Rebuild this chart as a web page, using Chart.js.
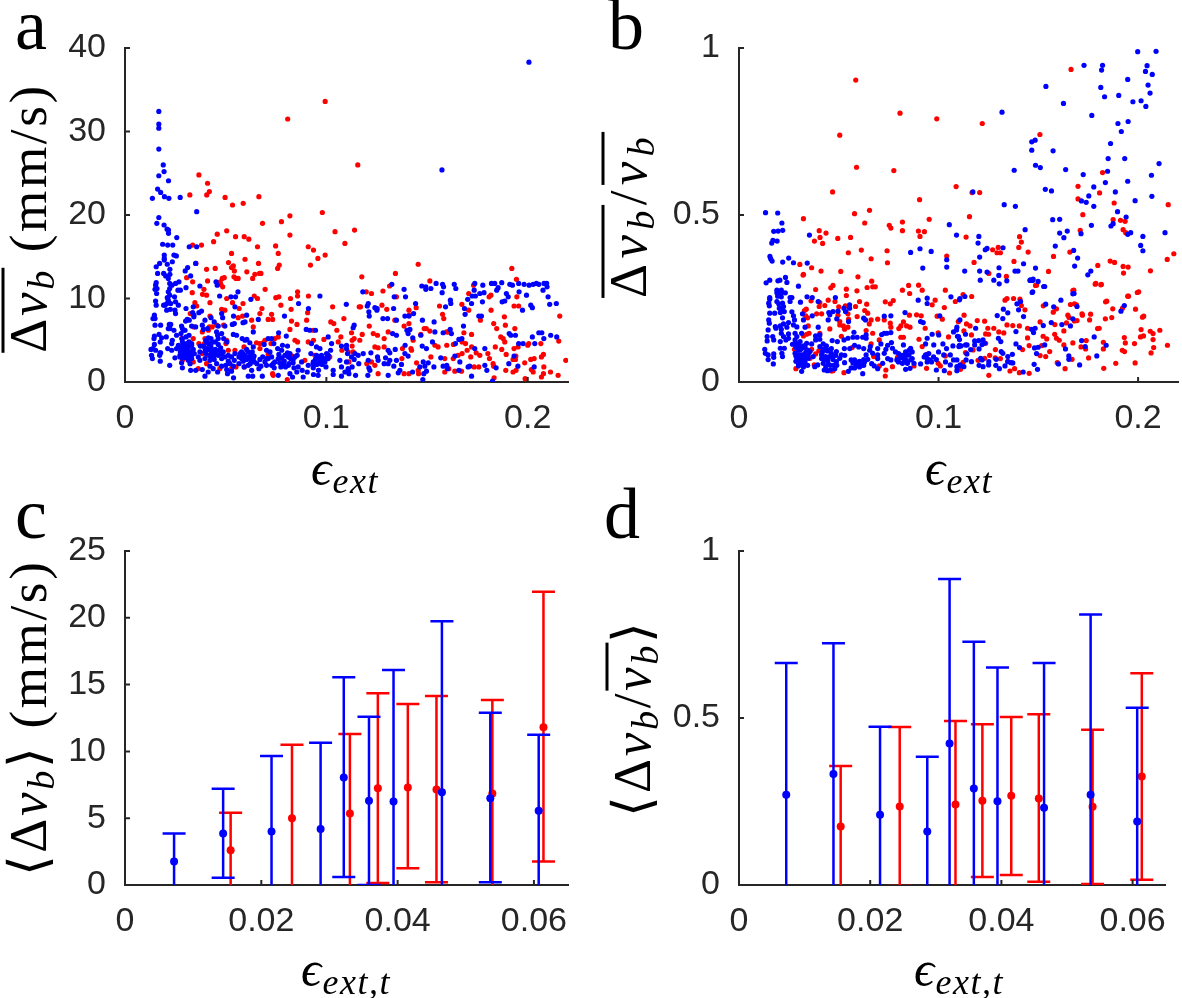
<!DOCTYPE html>
<html>
<head>
<meta charset="utf-8">
<script src="https://cdn.jsdelivr.net/npm/chart.js@4/dist/chart.umd.min.js"></script>
<style>
  html, body { margin: 0; padding: 0; background: #fff; }
  #page { position: relative; width: 1182px; height: 998px; overflow: hidden; }
  canvas { position: absolute; }
  .lab { position: absolute; font-family: "Liberation Serif", serif; color: #000; white-space: nowrap; line-height: 1; }
  .rot { transform: translate(-50%, -50%) rotate(-90deg); }
  .cen { transform: translate(-50%, -50%); }
  .letter { font-size: 72px; }
  .ytitle { font-size: 53px; letter-spacing: 0.05em; }
  .xtitle { font-size: 50px; letter-spacing: 0.03em; }
  .bar { display: inline-block; border-top: 3px solid #000; line-height: 0.8; padding-top: 2px; }
  i { font-style: italic; }
  sub { font-size: 0.72em; line-height: 0; vertical-align: -0.22em; font-style: italic; }
</style>
</head>
<body>
<div id="page">
  <canvas id="panelA" width="590" height="500" style="left:0;top:0"></canvas>
  <canvas id="panelB" width="592" height="500" style="left:590px;top:0"></canvas>
  <canvas id="panelC" width="590" height="498" style="left:0;top:500px"></canvas>
  <canvas id="panelD" width="592" height="498" style="left:590px;top:500px"></canvas>

  <div class="lab letter" style="left:15px;top:-11px">a</div>
  <div class="lab letter" style="left:608px;top:-11px">b</div>
  <div class="lab letter" style="left:15px;top:478px">c</div>
  <div class="lab letter" style="left:604px;top:478px">d</div>

  <div class="lab ytitle rot" style="left:28px;top:218px"><span class="bar">&Delta;<i>v</i><sub>b</sub></span> (mm/s)</div>
  <div class="lab ytitle rot" style="left:628px;top:215px;letter-spacing:0.1em"><span class="bar">&Delta;<i>v</i><sub>b</sub></span>/<span class="bar"><i>v</i><sub>b</sub></span></div>
  <div class="lab ytitle rot" style="left:28px;top:718px">&#10216;&Delta;<i>v</i><sub>b</sub>&#10217; (mm/s)</div>
  <div class="lab ytitle rot" style="left:632px;top:718px">&#10216;&Delta;<i>v</i><sub>b</sub>/<span class="bar"><i>v</i><sub>b</sub></span>&#10217;</div>

  <div class="lab xtitle cen" style="left:345px;top:468px"><i>&#1013;</i><sub>ext</sub></div>
  <div class="lab xtitle cen" style="left:959px;top:468px"><i>&#1013;</i><sub>ext</sub></div>
  <div class="lab xtitle cen" style="left:346px;top:969px"><i>&#1013;</i><sub>ext,t</sub></div>
  <div class="lab xtitle cen" style="left:959px;top:969px"><i>&#1013;</i><sub>ext,t</sub></div>
</div>

<script>
// Tick values for the four panels
const xTicksTop = [0, 0.1, 0.2];
const xTicksBottom = [0, 0.02, 0.04, 0.06];
const yTicksA = [0, 10, 20, 30, 40];
const yTicksB = [0, 0.5, 1];
const yTicksC = [0, 5, 10, 15, 20, 25];
const yTicksD = [0, 0.5, 1];

// Panel a: values, [strain, speed]
const aBlue = [
[.0168,32.4],[.0168,30.9],[.0168,30.4],[.0168,27.9],[.019,26],[.0194,25.2],[.0168,24.7],[.0162,23.1],[.0216,24.1],[.0177,22.7],[.0136,22],[.0196,22.2],[.0218,22],[.0274,22.1],[.0356,20.4],[.0168,19.7],[.0158,19],[.0194,18.8],[.0209,18.3],[.0216,18.2],[.0216,17.8],[.0257,17.3],[.1574,25.4],[.2006,38.3],
[.0187,16.5],[.0212,16.4],[.0237,16.4],[.0319,16.2],[.0356,16.2],[.0195,15.2],[.0195,14.8],[.0243,15.2],[.0255,15.1],[.0195,14.6],[.0235,14.4],[.0172,14.2],[.021,14.1],[.0155,13.8],[.0223,13.5],[.0311,13.7],[.0351,14.2],[.0162,13],[.0192,13],[.0223,12.9],[.0202,12.7],[.0326,12.7],[.0299,13.3],[.0215,12.4],
[.0155,11.9],[.0152,11.6],[.0222,11.8],[.0268,12],[.0251,11.8],[.0233,11.6],[.0149,11.1],[.0159,11.2],[.0222,11.2],[.0303,11.3],[.0372,11.5],[.0452,12],[.0458,11.6],[.0263,11],[.0275,11],[.0215,10.8],[.0157,10.6],[.0222,10.4],[.021,10.1],[.0246,10.2],[.0561,10.8],[.047,10.3],[.0526,10.2],[.0549,10.2],[.0625,9.9],
[.0152,9.7],[.0155,9.2],[.0215,9.8],[.0208,9.4],[.0227,9.4],[.0199,9.2],[.0192,9.2],[.0251,9.6],[.0265,9.2],[.0303,8.8],[.0339,9],[.0546,9],[.0968,10.3],[.0862,9.4],[.0146,8],[.0207,8.6],[.0225,8.7],[.0248,8.6],[.0251,8.2],[.0336,8.3],[.038,8.5],[.0367,8.3],[.0342,8],[.048,8.2],[.0485,7.7],[.0604,8],[.0792,7.9],[.0911,8.8],
[.0139,7.6],[.0149,7.6],[.0309,7.5],[.0301,7.3],[.0319,7.4],[.0342,7.8],[.0397,7.4],[.0427,7.7],[.0443,7.2],[.0539,7.9],[.0543,7],[.0533,6.9],[.0586,7.1],[.0596,7.2],[.0662,7.5],
[.022,6.9],[.0227,6.9],[.0177,6.8],[.0149,6.8],[.0215,6.4],[.0223,6.4],[.0243,6.2],[.0281,6.7],[.0285,6.4],[.0291,6.2],[.0331,6.7],[.0351,6.6],[.0384,6.8],[.0389,6.3],[.0463,6.7],[.0496,6.7],[.0637,6],[.0763,5.9],[.09,6.3],[.0918,6.2],[.0946,6.2],
[.0146,5.5],[.0144,5.2],[.0169,5.7],[.0278,5.8],[.0298,6.2],[.0318,5.6],[.041,6.4],[.0455,6],[.046,5.6],[.048,5.8],[.0182,5.3],[.0205,5.4],[.0256,5.6],[.0175,4.8],[.0235,5],[.0232,4.6],[.0285,5.2],[.0303,5.4],[.0538,5.7],[.0554,5.6],[.0711,5.2],[.0728,5.2],[.0801,5.5],[.1009,5.4],[.0582,5.2],[.0605,5.1],[.0414,5.3],[.0427,5.2],[.0433,4.8],[.0463,5.2],[.049,5.2],[.0506,4.8],
[.0146,4.5],[.0139,4],[.0129,3.9],[.0152,3.8],[.0174,3.5],[.0212,4],[.0256,4],[.0232,3.8],[.0285,4.8],[.029,4.4],[.0278,4.2],[.0306,4.6],[.0331,4.6],[.0314,4],[.0374,4.3],[.0389,4.3],[.0405,4.8],[.0427,4.6],[.044,3.8],[.041,4],[.0468,3.8],[.0596,5],[.062,4.7],[.0637,4.2],[.0691,4.5],[.0739,4.6],[.0782,4.4],[.0807,4.3],[.086,3.8],[.0926,4.6],[.0951,4.2],[.1026,4.6],[.1075,4.3],[.11,4.4],[.0968,4],
[.0132,3.2],[.0136,2.8],[.0172,3.2],[.0177,3.5],[.0248,2.9],[.0273,3.2],[.0298,3.6],[.0318,3.6],[.029,3.2],[.0306,3.2],[.0331,3.2],[.0344,3.4],[.0372,3.6],[.0397,3.6],[.0427,3.4],[.045,3.4],[.0475,3.4],[.0488,3.6],[.0513,3.2],[.0546,3.4],[.0571,3.4],[.0587,3.4],[.0612,3.6],[.0632,3.6],[.0629,3.2],[.0703,3.8],[.072,3.6],[.0758,4],[.0778,3.8],[.0819,3.4],[.0855,3.2],[.0923,3.4],[.0951,3.2],[.0976,3.2],[.1001,3.4],[.1021,3.8],
[.0175,2.5],[.0222,2],[.0281,2.3],[.0285,1.7],[.0314,2.6],[.0323,2.2],[.0372,2.6],[.0397,2.8],[.0364,3],[.0422,2.6],[.0443,2.7],[.048,2.8],[.0513,2.5],[.0543,2.6],[.0587,3],[.0604,2.7],[.0637,2.8],[.0642,2.4],[.067,2.7],[.0703,2.8],[.0728,3],[.0761,2.8],[.0794,3.2],[.0811,3],[.0835,2.7],[.0877,2.4],[.091,2],[.0935,2.4],[.096,2.2],[.0984,2.6],[.1009,2.8],[.1067,2.6],[.11,2.4],
[.0326,1.4],[.0351,1.4],[.0384,1.5],[.0422,1.9],[.0438,1.6],[.048,1.9],[.0505,1.5],[.0538,1.9],[.0592,1.8],[.0612,2],[.0629,1.4],[.0665,1.6],[.0703,2],[.0736,2.2],[.0774,1.8],[.0791,2],[.0811,2],[.086,1.8],[.0935,1.7],[.0998,1.8],[.1034,1.4],[.1075,1.8],[.1092,1.2],[.1108,1.6],
[.0397,.7],[.0539,.5],[.0509,1],[.0612,.7],[.0634,.7],[.0682,.7],[.0761,.8],[.0819,1],[.0832,.6],[.0885,.6],[.0936,.9],[.0959,.8],[.1034,.9],[.1075,.7],
[.0265,4.4],[.0281,4.0],[.0298,3.9],[.0314,4.2],[.0275,3.6],[.0291,3.7],[.0306,3.4],[.0322,3.5],[.0339,3.9],[.0273,3.0],[.0285,2.9],[.0301,2.9],[.0318,3.0],[.0331,2.8],[.0298,4.4],[.0318,4.8],[.0331,4.4],
[.0402,5],[.0414,4.6],[.0427,4.2],[.0414,3.9],[.0402,3.4],[.0433,3.6],[.0449,3.9],[.0463,4.5],[.0449,4.8],[.0475,4.1],[.0423,3.1],[.0441,3.1],[.0463,3.2],[.048,3.4],[.0396,4.1],
[.0566,3],[.0579,3.6],[.0594,3.2],[.0579,2.8],[.0612,3],[.0625,3.4],[.0604,3.9],[.0587,2.5],[.0625,2.7],[.0641,3.1],[.0622,2.2],[.0566,2.2],
[.0764,3.3],[.0778,2.9],[.0791,2.5],[.0807,3.5],[.0822,2.8],[.0835,2.3],[.0797,1.8],[.0779,2.1],[.0815,2.2],[.0844,3],[.0768,2.3],[.0839,1.7],
[.0946,2.7],[.0959,3],[.0968,2.6],[.0981,2.9],[.0993,2.4],[.1001,2.9],[.0934,2.2],[.0952,2.1],[.0979,2.1],[.101,3.2],
[.0684,3],[.0695,2.4],[.0711,2.8],[.0744,2.4],[.0728,2],[.0675,1.9],[.0655,2.2],[.0521,2.2],[.05,2],[.0529,3],[.0496,3],[.0529,1.3],[.0455,2.2],[.046,1.2],[.0413,1.2],[.0741,1.7],[.0853,1.2],[.088,1.4],[.0905,1.2],[.0961,1.4],
[.1325,11.7],[.1474,11.5],[.1494,11.4],[.1494,11.1],[.1519,11.2],[.1545,11.8],[.1577,11.7],[.1582,11.4],[.1635,11.7],[.1643,11.2],[.1575,10.7],[.1386,11.1],[.1393,10.2],[.1181,10.8],[.1337,10.2],[.1737,11.8],[.1734,11],[.1777,11.6],[.182,11.8],[.1836,11.8],[.1871,11.9],[.1911,11.7],[.1924,11.6],[.1955,11.8],[.1982,11.7],[.2007,11.6],[.2027,11.7],[.2043,11.8],[.2055,11.7],[.2081,11.8],[.2094,11.8],[.2096,11.4],[.2076,11],[.1853,11.3],[.1846,11],[.1957,10.8],[.1994,10.4],[.2101,10.2],[.1724,10.3],[.174,10.3],[.1762,10.6],[.1783,10.7],[.1702,9.9],[.1721,9.4],[.1775,9.6],[.1894,10.6],[.1903,10.2],[.1886,9.7],[.1873,9.6],[.2015,9.2],[.2023,8.9],[.1974,8.6],[.2109,9.3],[.2142,9.4],[.1616,9.8],[.1618,9.4],[.1592,9],[.1686,8.8],[.1689,8.1],[.1757,7.9],[.177,7.9],[.1443,9.4],[.1433,8.2],[.139,7.9],[.141,7.9],[.1334,8.8],[.1241,8.9],[.1252,8.8],[.1251,8.6],[.1208,9.4],[.1203,9.1],[.1211,8.4],[.1213,7.9],[.1099,9.3],[.1281,7.6],[.1304,7.6],[.1348,7.4],[.1477,7.4],[.1535,7.2],[.1138,6.8],[.1133,6.5],[.1415,6.3],[.14,6.2],[.1406,5.8],[.1329,5.8],[.1348,5.6],[.1429,5.3],[.1469,5.6],[.1539,6],[.158,5.9],[.1615,6.3],[.1621,5.8],[.1681,6.7],[.1673,5.2],[.1658,5.1],[.1641,4.6],[.1527,4.8],[.1391,4.4],[.1342,3.9],[.1307,3.8],[.1315,3.5],[.1476,4.3],[.1497,4],[.139,3.4],[.1406,3.1],[.1221,3.5],[.1183,3.4],[.1142,3.4],[.11,4],[.1105,3.4],[.1161,2.2],[.1138,2.7],[.1208,2.6],[.1254,3],[.1257,2.6],[.1294,2.9],[.1315,2.6],[.1348,2.6],[.1307,2.2],[.1287,2.2],[.1335,1.9],[.1373,2.1],[.1365,1.4],[.1357,1.1],[.1428,1.2],[.1211,1.7],[.1216,1.4],[.1109,1.4],[.1112,1],[.1128,1.8],[.1145,.8],[.1206,.8],[.1307,.8],[.1484,1],[.1497,1.3],[.1479,.3],[.1464,1.8],[.1489,1.9],[.1481,2.4],[.1506,2.3],[.1568,2.9],[.1534,1.8],[.158,1.9],[.1598,2],[.1602,1.6],[.1658,1.4],[.1638,3.1],[.1663,2.4],[.1712,1.9],[.1704,1.8],[.1721,.7],[.1737,4],[.1787,4],[.1787,2],[.1797,1.4],[.1843,1.7],[.1825,.1],[.1906,2.2],[.1932,3.1],[.1951,1.9],[.1908,5.8],[.1916,5.6],[.1939,5.6],[.1955,4.6],[.1977,4.6],[.2023,5.4],[.2035,4.6],[.2055,5.9],[.207,5.9],[.208,5.2],[.2114,5.6],[.2144,5.4],[.2032,1.8],[.1125,3],[.1158,3.2]
];
const aRed = [
[.0994,33.6],[.0808,31.5],[.1156,26],[.0367,24.8],[.041,23.8],[.0419,22.8],[.0406,22.4],[.0322,22.4],[.0497,22.1],[.0534,21.2],[.0587,21.4],[.0665,22.2],[.0683,19],[.0777,19.2],[.0819,19.9],[.098,20.3],[.1043,18],[.0819,17.6],[.114,18.2],[.0505,18.1],[.0458,17.7],[.0549,17.4],[.0592,17.4],[.0615,17.1],
[.0336,16.4],[.038,16.4],[.044,16.8],[.0658,16.2],[.0748,16.3],[.0761,15.4],[.091,16.2],[.0936,15.8],[.0994,15.2],[.0958,14.8],[.0921,14],[.1092,16.6],[.0529,15.4],[.0596,14.7],[.0514,14.3],[.0538,13.9],[.0529,13.7],[.0543,13.3],[.0663,14.2],[.0766,14],[.0758,13.6],[.0405,13.5],[.0448,13.6],[.0352,14.2],[.0605,13.2],[.0645,12.9],[.0668,13],[.0675,13],[.0541,12.6],[.0562,12.4],[.0551,12.4],[.0634,12.4],[.0483,12.4],[.0493,12.5],[.0306,12.5],[.0336,12],[.041,12.1],[.0473,12],[.0476,11.7],[.0485,11.4],[.0392,11.1],[.0385,10.5],[.0334,10.7],[.0405,10.4],[.0696,11.1],[.0642,10.3],[.0658,10],[.0505,10],[.0534,9.5],[.0422,9.5],[.0347,9.5],[.0356,9.1],[.0586,9.4],[.0567,8.8],[.048,8.7],[.0496,8.6],[.0749,10.1],[.0764,10.2],[.0822,10],[.0857,10.8],[.0857,10.3],[.0911,10.3],[.0774,9.2],[.0825,8.7],[.0907,8.3],[.1031,9],[.068,8.8],[.067,8.2],[.0728,8.1],[.0711,7.5],[.0733,7.5],[.0902,7.4],[.0827,7.3],[.0854,6.9],[.0819,6.3],[.1087,7.6],[.1022,7.2],[.1037,7],[.1052,6.2],[.1072,5.4],[.0935,6.2],[.0422,7.9],[.0562,7.7],[.0584,7.9],[.0629,7.4],[.0637,6.6],[.0324,8.2],[.0419,6.6],[.0433,6.6],[.0455,6.8],[.0342,6.6],[.0414,6.2],[.049,6.8],[.0384,6],[.0397,5.2],[.0339,5.2],[.0281,5.2],[.0394,4.6],[.0367,4.6],[.0505,5],[.0501,4.6],[.0653,4.7],[.067,4.6],[.0687,4.7],[.0695,5],[.067,4],[.0725,4.6],[.0744,5.2],[.0761,5.4],[.0844,5],[.0857,4.8],[.091,4.8],[.0936,5],[.0988,5.1],[.1059,4.8],[.1077,3.8],[.0546,3.8],[.0591,4.2],[.0513,3.8],[.041,3.2],[.0384,3.4],[.0281,3.2],[.0285,2.6],[.0339,2.4],[.0438,2.8],[.0405,2.2],[.0364,1.6],[.0471,1.6],[.0529,1.6],[.0551,1.8],[.0592,1.8],[.0733,1],[.0736,.8],[.0806,.3],[.0893,2.6],[.0943,3.2],[.0976,2.4],[.1017,3],[.0711,3.3],[.0778,2.8],[.0832,3.1],
[.1456,14.1],[.1343,13],[.1176,12.6],[.1921,13.6],[.1944,12.3],[.1514,12.1],[.1314,11.5],[.1731,11.6],[.1198,10.8],[.1224,10.6],[.1281,10.9],[.1348,10.2],[.1707,10.6],[.1808,10.2],[.1817,10.4],[.1946,10.2],[.1932,9.1],[.1955,9.1],[.1163,9],[.117,9],[.1276,9.2],[.13,8.7],[.141,8.6],[.1446,8.9],[.1562,9.1],[.1673,9.3],[.1707,8.6],[.1818,8.6],[.1577,8.1],[.1583,7.6],[.134,7.4],[.1411,8],[.141,7],[.1386,6.7],[.1213,6.7],[.1125,5.9],[.1178,5.7],[.1233,5.8],[.1254,5.6],[.1307,6],[.1431,5],[.1138,5.2],[.1128,5],[.1166,5],[.1287,5.2],[.1486,6.4],[.1496,6.4],[.1514,6.1],[.1597,6],[.1605,6],[.1469,5.7],[.1721,5.7],[.1683,5.9],[.1765,7.4],[.1831,7],[.1846,6.4],[.1884,7.8],[.1889,6.8],[.1936,6.4],[.2159,7.9],[.1866,5.4],[.1878,5.2],[.1886,4.8],[.2,4.4],[.2005,4.6],[.2065,4.6],[.2154,4.9],[.1952,4.2],[.1932,4],[.1871,3.9],[.1839,4.2],[.1691,4.6],[.1674,4.8],[.1721,4.2],[.1699,3.8],[.1744,3.5],[.1762,3.2],[.1802,3.4],[.181,2.8],[.1893,3.3],[.1241,4.2],[.1257,4.1],[.1287,4.2],[.1378,4],[.142,4],[.1423,3.8],[.1555,4.2],[.1539,4.4],[.1598,4.4],[.1631,4.5],[.1128,4.3],[.1109,3.6],[.1133,3.6],[.1112,2.4],[.1201,2.2],[.1241,2],[.1257,1],[.1375,2.8],[.1448,2.3],[.1519,3],[.1588,2.8],[.163,2.8],[.1654,3.2],[.1674,3.4],[.1717,3],[.1734,1.8],[.1757,1.8],[.1828,2.2],[.1831,1.9],[.1833,.5],[.1927,2.7],[.1941,3.1],[.1939,2.7],[.1985,2.3],[.2015,2.7],[.2032,2.8],[.2068,3],[.2078,3.3],[.208,1.8],[.2189,2.6],[.1891,1.4],[.1927,1.2],[.1942,1.4],[.2018,1.5],[.2027,1.2],[.2113,1.2],[.2151,.8],[.2078,1],[.2068,.6],[.1987,.4],[.1458,1],[.1456,1.4],[.1386,1],[.141,1],[.1588,1.2],[.1638,1.3],[.1671,1.3],[.1608,1.6],[.1224,2.4]
];

// Panel b: values, [strain, relative speed]
const bBlue = [
[.0133,.507],[.0194,.506],[.0215,.476],[.0174,.451],[.0196,.452],[.0219,.454],[.017,.424],[.0164,.416],[.0191,.422],[.0155,.376],[.0159,.369],[.0166,.362],[.0219,.359],[.0249,.371],[.0273,.357],[.0342,.356],[.0353,.44],[.1054,.471],[.109,.44],[.1172,.569],[.1318,.808],[.1379,.634],[.1329,.531],[.1385,.526],[.1202,.436],[.1198,.416],[.1234,.396],[.1243,.4],[.1206,.374],[.1323,.402],[.1434,.456],[.1426,.354],[.1383,.332],[.1398,.332],[.1131,.332],[.1041,.366],[.1041,.344],[.0963,.391],[.0907,.399],[.086,.388],[.0921,.341],[.1303,.342],[.1243,.329],[.1206,.332],[.1467,.719],[.1484,.724],[.1467,.694],[.1486,.649],[.151,.642],[.1538,.885],[.1574,.692],[.1535,.577],[.1566,.572],[.1572,.486],[.1607,.487],[.1637,.636],[.1626,.834],[.1729,.948],[.1822,.948],[.1817,.934],[.1813,.882],[.1832,.854],[.1903,.858],[.1998,.989],[.209,.99],[.2045,.947],[.2037,.93],[.2071,.921],[.205,.889],[.206,.865],[.1948,.906],[.1974,.839],[.2015,.842],[.2039,.825],[.1768,.798],[.1899,.774],[.195,.78],[.1916,.75],[.1862,.714],[.185,.669],[.1847,.631],[.1933,.669],[.2105,.654],[.2067,.619],[.1725,.621],[.1836,.597],[.1948,.601],[.1886,.569],[.1778,.584],[.1753,.557],[.1716,.542],[.174,.538],[.1778,.526],[.1985,.543],[.2069,.556],[.1897,.51],[.194,.494],[.1864,.467],[.1875,.474],[.1766,.469],[.1714,.444],[.1607,.446],[.1628,.432],[.1645,.452],[.1948,.442],[.1963,.447],[.2024,.436],[.2135,.447],[.2013,.409],[.2024,.393],[.1585,.407],[.1677,.394],[.1697,.371],[.1682,.347],[.1748,.321],[.1763,.332],[.1486,.341],[.1458,.304],[.1471,.304],[.1527,.286],[.1469,.268],[.1673,.264],
[.0136,.297],[.0154,.305],[.0195,.303],[.0205,.305],[.0233,.313],[.024,.298],[.0298,.287],[.019,.275],[.0212,.275],[.019,.267],[.0212,.267],[.0232,.267],[.0154,.253],[.0154,.248],[.0194,.257],[.0212,.255],[.0265,.253],[.0256,.253],[.0308,.239],[.0341,.255],[.0367,.253],[.0397,.241],[.0483,.253],[.0149,.236],[.0152,.228],[.019,.241],[.0199,.234],[.0218,.236],[.0256,.241],[.0223,.226],[.0202,.221],[.0215,.216],[.0227,.211],[.0154,.206],[.0179,.206],[.0207,.208],[.0265,.21],[.0318,.204],[.0367,.198],[.045,.208],[.0471,.211],[.0496,.212],[.0526,.221],[.0534,.211],[.0554,.231],[.0554,.221],[.0625,.191],[.0634,.186],[.0728,.197],[.0761,.198],[.0832,.208],[.091,.181],[.0923,.178],[.1006,.198],[.0898,.245],[.0943,.251],[.0943,.235],[.1062,.255],[.1105,.246],[.0149,.186],[.0152,.176],[.0218,.192],[.0273,.198],[.0278,.186],[.0323,.186],[.0447,.186],[.0455,.201],[.049,.189],[.0549,.181],[.0182,.166],[.0207,.168],[.0223,.174],[.0248,.178],[.0146,.156],[.0185,.161],[.0212,.158],[.024,.164],[.0273,.171],[.029,.165],[.0331,.164],[.0397,.164],[.0141,.136],[.0141,.123],[.0169,.136],[.0174,.126],[.0212,.146],[.0223,.136],[.0248,.144],[.0248,.131],[.0207,.121],[.0235,.126],[.0281,.146],[.029,.136],[.0314,.146],[.0384,.138],[.0405,.141],[.0576,.149],[.0637,.141],[.0728,.146],[.0715,.142],[.0741,.146],[.0761,.148],[.0943,.131],[.0968,.143],[.1001,.141],[.1092,.164],[.1075,.15],[.11,.136],[.0129,.098],[.0132,.086],[.0146,.081],[.0174,.084],[.0174,.074],[.0146,.067],[.0172,.054],[.0207,.101],[.0227,.101],[.0215,.086],[.0218,.076],[.0268,.113],[.0281,.126],[.0285,.116],[.0306,.121],[.0339,.116],[.0364,.114],[.0384,.126],[.0405,.128],[.0467,.124],[.0493,.121],[.0526,.126],[.0546,.131],[.0571,.134],[.0592,.134],[.062,.134],[.0637,.131],[.0658,.106],[.0711,.114],[.0736,.098],[.0764,.118],[.0769,.101],[.0824,.111],[.086,.101],[.0935,.114],[.0976,.111],[.1022,.114],[.1072,.108],[.1105,.11],[.029,.101],[.0306,.096],[.0323,.108],[.0339,.096],[.0281,.086],[.0298,.081],[.0314,.081],[.0331,.086],[.0356,.091],[.029,.071],[.0306,.066],[.0323,.066],[.0347,.071],[.0298,.056],[.0323,.054],[.0314,.032],[.038,.046],[.0394,.051],[.0372,.076],[.0405,.106],[.0422,.114],[.0438,.108],[.0422,.098],[.0443,.093],[.0414,.081],[.0433,.076],[.0463,.086],[.0488,.091],[.0513,.081],[.0471,.067],[.0422,.056],[.0447,.054],[.0427,.036],[.0443,.034],[.0488,.061],[.0505,.071],[.0529,.058],[.0562,.066],[.0579,.066],[.0596,.056],[.0625,.067],[.0637,.081],[.067,.086],[.0695,.081],[.0728,.086],[.0761,.066],[.0791,.066],[.0819,.056],[.0852,.081],[.086,.066],[.0877,.056],[.091,.054],[.0935,.081],[.0956,.066],[.0989,.067],[.1026,.081],[.1059,.081],[.1075,.066],[.1108,.051],[.0562,.042],[.0587,.051],[.062,.025],[.0548,.032],[.0678,.048],[.072,.056],[.0835,.038],[.0857,.041],[.0989,.036],[.1029,.034],[.1059,.051],[.1092,.034],
[.0285,.105],[.0298,.095],[.0301,.11],[.0314,.1],[.0331,.105],[.0347,.095],[.0285,.078],[.0298,.07],[.0314,.073],[.0331,.077],[.0347,.082],[.0285,.062],[.0298,.048],[.0314,.058],[.0331,.06],[.0344,.05],[.0323,.045],
[.0418,.09],[.0431,.1],[.0448,.095],[.0463,.1],[.0414,.07],[.043,.066],[.045,.075],[.0468,.075],[.0485,.08],[.0445,.064],[.0458,.05],[.0475,.05],[.049,.05],[.0435,.045],[.0458,.036],[.048,.04],
[.0571,.057],[.0587,.06],[.0604,.062],[.0612,.05],[.0629,.06],[.0604,.045],[.0625,.05],[.0645,.068],[.0579,.042],
[.0784,.09],[.08,.085],[.0818,.08],[.0835,.09],[.0852,.095],[.0868,.09],[.0799,.06],[.0835,.066],[.0844,.056],[.0806,.072],[.0825,.07],[.0868,.07],[.084,.08],
[.0928,.075],[.0943,.07],[.0951,.085],[.0965,.06],[.0975,.075],[.0943,.06],
[.0655,.095],[.0695,.1],[.0745,.07],[.0745,.11],[.0695,.07],[.0665,.055],[.0695,.04],[.0528,.1],[.053,.08],[.0555,.1],[.0579,.11],[.06,.105],[.0625,.1],[.1,.09],[.1035,.06],[.104,.1],
[.1302,.319],[.1277,.305],[.1342,.303],[.1209,.305],[.1304,.294],[.146,.306],[.1474,.308],[.1499,.301],[.1532,.286],[.1472,.27],[.1679,.265],[.1107,.25],[.1132,.256],[.1393,.234],[.1411,.241],[.1401,.216],[.1325,.218],[.1347,.207],[.1294,.199],[.1322,.19],[.1426,.196],[.1537,.233],[.1577,.225],[.1613,.245],[.1694,.226],[.1914,.212],[.1931,.229],[.1107,.186],[.1565,.178],[.1618,.172],[.1661,.168],[.1673,.189],[.1525,.169],[.109,.156],[.1186,.161],[.1135,.143],[.1095,.137],[.1105,.127],[.1388,.151],[.1466,.158],[.1476,.148],[.1484,.161],[.13,.131],[.1312,.121],[.1181,.123],[.1201,.124],[.1223,.126],[.1231,.116],[.1218,.112],[.1181,.111],[.1102,.106],[.1112,.108],[.1135,.111],[.1143,.111],[.1161,.097],[.1203,.099],[.1388,.114],[.1406,.103],[.1481,.102],[.1499,.104],[.1532,.111],[.1636,.099],[.1717,.124],[.1735,.106],[.178,.135],[.184,.11],[.1491,.085],[.1314,.091],[.1322,.086],[.137,.083],[.1347,.076],[.1142,.084],[.1653,.078],[.1653,.068],[.1793,.078],[.1092,.066],[.1138,.066],[.1165,.061],[.1211,.071],[.1218,.066],[.1252,.061],[.1289,.068],[.1347,.061],[.1363,.058],[.1372,.057],[.1092,.046],[.1107,.048],[.1127,.046],[.1203,.05],[.1223,.046],[.1251,.051],[.1287,.05],[.1333,.048],[.1305,.04],[.1479,.053],[.1496,.038],[.1424,.03],[.1601,.054],[.1707,.051]
];
const bRed = [
[.0585,.904],[.0807,.805],[.0991,.788],[.1219,.774],[.0505,.739],[.1508,.741],[.1664,.936],[.0589,.643],[.0776,.633],[.1088,.585],[.1168,.567],[.1206,.567],[.0469,.569],[.0905,.546],[.0654,.514],[.0579,.504],[.0323,.489],[.063,.476],[.0953,.487],[.1155,.495],[.0753,.469],[.0761,.461],[.0819,.479],[.0819,.453],[.0899,.452],[.0929,.45],[.0907,.436],[.0402,.453],[.0436,.446],[.0406,.433],[.0378,.422],[.0419,.415],[.0495,.43],[.0559,.433],[.1138,.434],[.1406,.435],[.1415,.419],[.1402,.403],[.1449,.389],[.1299,.403],[.1271,.396],[.1293,.387],[.131,.387],[.1378,.361],[.1041,.377],[.0613,.395],[.0548,.387],[.0742,.393],[.0744,.357],[.0662,.369],[.0305,.352],[.0364,.342],[.0411,.332],[.0321,.32],[.051,.331],[.1178,.358],[.171,.454],[.1699,.586],[.1699,.548],[.1723,.501],[.1822,.627],[.1807,.566],[.188,.536],[.2151,.531],[.1875,.486],[.1912,.484],[.1935,.481],[.1925,.456],[.1938,.447],[.1658,.389],[.1576,.376],[.186,.362],[.1882,.358],[.1925,.346],[.195,.344],[.1927,.326],[.1798,.349],[.2062,.333],[.2146,.367],[.2179,.384],[.1551,.331],[.1785,.293],[.1813,.291],[.1486,.289],[.1996,.268],[.1948,.257],[.1837,.24],[.1673,.274],
[.0323,.322],[.0596,.315],[.0665,.302],[.0384,.277],[.046,.282],[.0471,.289],[.0538,.278],[.0591,.273],[.0642,.283],[.067,.285],[.0683,.285],[.0538,.259],[.0361,.243],[.0447,.245],[.0481,.241],[.0604,.241],[.0733,.24],[.0758,.234],[.0773,.244],[.0819,.275],[.085,.289],[.0855,.265],[.09,.29],[.0918,.275],[.1034,.275],[.0983,.245],[.0968,.231],[.1084,.241],[.1029,.223],[.0405,.238],[.0402,.226],[.043,.229],[.05,.225],[.0533,.228],[.0584,.226],[.064,.233],[.0337,.218],[.0328,.214],[.0334,.198],[.0344,.192],[.0389,.204],[.0414,.204],[.0496,.2],[.0505,.181],[.0546,.204],[.0549,.188],[.0592,.196],[.063,.214],[.0645,.206],[.0662,.186],[.0695,.188],[.0728,.186],[.0758,.176],[.0761,.164],[.0824,.18],[.0811,.168],[.0801,.16],[.0854,.2],[.084,.168],[.0857,.164],[.089,.201],[.0913,.198],[.0993,.197],[.1019,.188],[.11,.181],[.0933,.161],[.0347,.168],[.0455,.159],[.0505,.171],[.0523,.168],[.0529,.158],[.0546,.164],[.0637,.154],[.0653,.174],[.067,.146],[.0339,.143],[.0351,.146],[.0323,.138],[.0405,.146],[.0513,.137],[.0703,.126],[.0811,.134],[.0824,.134],[.0902,.128],[.0998,.147],[.105,.135],[.0278,.098],[.0364,.098],[.0384,.084],[.0567,.103],[.0662,.114],[.04,.093],[.0356,.071],[.0377,.051],[.0285,.04],[.0526,.028],[.0471,.034],[.0463,.033],[.0733,.018],[.0736,.036],[.0769,.046],[.0703,.048],[.0877,.048],[.0794,.074],[.0675,.076],[.0918,.106],[.0998,.056],[.1009,.048],[.1055,.027],[.1034,.078],[.094,.041],[.0943,.083],
[.134,.316],[.1252,.325],[.1491,.29],[.1678,.275],[.1123,.262],[.1166,.256],[.1343,.25],[.1333,.245],[.1376,.25],[.1408,.248],[.1415,.229],[.1433,.216],[.1525,.228],[.1591,.219],[.1575,.209],[.1661,.232],[.1681,.234],[.1691,.231],[.1788,.295],[.1816,.292],[.1843,.242],[.1873,.219],[.2003,.27],[.1952,.257],[.1922,.221],[.1987,.218],[.1128,.2],[.1648,.2],[.1654,.193],[.1719,.204],[.1721,.2],[.1762,.203],[.1757,.186],[.1868,.193],[.1836,.189],[.2022,.194],[.2028,.197],[.1194,.184],[.1231,.182],[.1099,.181],[.114,.174],[.1158,.168],[.1343,.171],[.1372,.169],[.1405,.168],[.1509,.18],[.1583,.172],[.1641,.177],[.1681,.183],[.1694,.184],[.1127,.153],[.1165,.141],[.1247,.161],[.1277,.161],[.1302,.15],[.1327,.147],[.1236,.144],[.1251,.143],[.1446,.161],[.1524,.137],[.1542,.129],[.1446,.132],[.1582,.143],[.1591,.131],[.1605,.125],[.1628,.153],[.1628,.111],[.1673,.117],[.1797,.16],[.1805,.161],[.174,.124],[.1714,.105],[.1737,.099],[.1826,.119],[.1826,.099],[.1931,.133],[.1936,.117],[.1982,.115],[.2015,.157],[.2012,.135],[.2027,.138],[.2061,.152],[.2075,.145],[.2075,.127],[.2078,.103],[.2109,.155],[.2147,.11],[.1921,.095],[.1932,.091],[.2065,.087],[.1985,.057],[.1888,.056],[.1828,.041],[.1752,.072],[.1669,.068],[.1595,.058],[.1634,.04],[.1509,.079],[.1537,.076],[.1557,.091],[.1517,.109],[.1454,.109],[.1421,.097],[.1285,.097],[.1236,.116],[.1173,.096],[.1135,.088],[.1256,.08],[.1231,.071],[.1198,.065],[.1284,.072],[.131,.07],[.1123,.059],[.111,.038],[.1252,.02],[.1347,.062],[.1358,.033],[.1381,.04],[.1405,.028],[.1454,.026]
];

// Panels c and d: binned means with error bars
const binsBlue = [0.0072, 0.0144, 0.0215, 0.0287, 0.0321, 0.0358, 0.0394, 0.0465, 0.0536, 0.0607];
const binsRed = [0.0155, 0.0245, 0.033, 0.0371, 0.0415, 0.0457, 0.0539, 0.0614];

const cBlueMean = [1.75, 3.85, 4.0, 4.2, 8.05, 6.3, 6.25, 6.95, 6.5, 5.55];
const cBlueHigh = [3.85, 7.2, 9.65, 10.65, 15.55, 12.6, 16.1, 19.75, 12.9, 11.25];
const cBlueLow = [-0.35, 0.55, -1.65, -2.25, 0.6, 0.0, -3.6, -5.85, 0.2, -0.15];
const cRedMean = [2.6, 5.0, 5.35, 7.25, 7.3, 7.15, 6.85, 11.8];
const cRedHigh = [5.4, 10.5, 11.3, 14.35, 13.55, 14.15, 13.85, 21.95];
const cRedLow = [-0.2, -0.5, -0.6, 0.15, 1.25, 0.2, -0.15, 1.75];

const dBlueMean = [0.27, 0.332, 0.21, 0.16, 0.424, 0.289, 0.251, 0.231, 0.27, 0.19];
const dBlueHigh = [0.665, 0.724, 0.474, 0.384, 0.916, 0.728, 0.651, 0.665, 0.81, 0.531];
const dBlueLow = [-0.125, -0.06, -0.054, -0.064, -0.068, -0.15, -0.149, -0.203, -0.27, -0.151];
const dRedMean = [0.175, 0.235, 0.241, 0.252, 0.267, 0.259, 0.234, 0.325];
const dRedHigh = [0.356, 0.473, 0.491, 0.481, 0.503, 0.511, 0.465, 0.634];
const dRedLow = [-0.006, -0.003, -0.009, 0.024, 0.03, 0.01, 0.003, 0.016];

const BLUE = '#0000ff';
const RED = '#ff0000';
const AXIS = '#262626';
const TICK_FONT = { family: '"Liberation Sans", Arial, sans-serif', size: 34 };

function toPoints(xs, ys) {
  return xs.map((x, i) => ({ x: x, y: ys[i] }));
}
function fromPairs(pairs) {
  return pairs.map(p => ({ x: p[0], y: p[1] }));
}

// MATLAB style inward tick marks
const inwardTicks = {
  id: 'inwardTicks',
  afterDraw(chart) {
    const { ctx, chartArea, scales } = chart;
    ctx.save();
    ctx.strokeStyle = AXIS;
    ctx.lineWidth = 2;
    ctx.beginPath();
    scales.x.ticks.forEach((t, i) => {
      const px = scales.x.getPixelForTick(i);
      ctx.moveTo(px, chartArea.bottom);
      ctx.lineTo(px, chartArea.bottom - 5);
    });
    scales.y.ticks.forEach((t, i) => {
      const py = scales.y.getPixelForTick(i);
      ctx.moveTo(chartArea.left, py);
      ctx.lineTo(chartArea.left + 5, py);
    });
    ctx.stroke();
    ctx.restore();
  }
};

// Draw each dataset's error bars just before its points
const errorBars = {
  id: 'errorBars',
  beforeDatasetDraw(chart, args) {
    const ds = chart.data.datasets[args.index];
    if (!ds.errHigh) return;
    const { ctx, chartArea, scales } = chart;
    const cap = 11.5;
    ctx.save();
    ctx.beginPath();
    ctx.rect(chartArea.left, chartArea.top, chartArea.width, chartArea.height);
    ctx.clip();
    ctx.strokeStyle = ds.pointBackgroundColor;
    ctx.lineWidth = 2.5;
    ds.data.forEach((p, i) => {
      const px = scales.x.getPixelForValue(p.x);
      const hi = scales.y.getPixelForValue(ds.errHigh[i]);
      const lo = scales.y.getPixelForValue(ds.errLow[i]);
      ctx.beginPath();
      ctx.moveTo(px, hi);
      ctx.lineTo(px, lo);
      ctx.moveTo(px - cap, hi);
      ctx.lineTo(px + cap, hi);
      ctx.moveTo(px - cap, lo);
      ctx.lineTo(px + cap, lo);
      ctx.stroke();
    });
    ctx.restore();
  }
};

function makeScale(ticks, max, size, padding) {
  return {
    type: 'linear',
    min: 0,
    max: max,
    afterBuildTicks(scale) {
      scale.ticks = ticks.map(v => ({ value: v }));
    },
    afterFit(scale) {
      if (scale.isHorizontal()) scale.height = size;
      else scale.width = size;
    },
    grid: { display: false, drawTicks: false },
    border: { display: true, color: AXIS, width: 2 },
    ticks: {
      color: AXIS,
      font: TICK_FONT,
      padding: padding,
      autoSkip: false,
      maxRotation: 0,
      callback: v => String(v)
    }
  };
}

function makeChart(id, datasets, opts) {
  return new Chart(document.getElementById(id), {
    type: 'scatter',
    data: { datasets: datasets },
    options: {
      responsive: false,
      animation: false,
      layout: { padding: { top: opts.top, right: opts.right, bottom: 0, left: 0 } },
      plugins: { legend: { display: false }, tooltip: { enabled: false } },
      scales: {
        x: makeScale(opts.xTicks, opts.xMax, opts.xSize, 16),
        y: makeScale(opts.yTicks, opts.yMax, opts.ySize, 19)
      }
    },
    plugins: [errorBars, inwardTicks]
  });
}

function dots(pairs, color) {
  return { data: fromPairs(pairs), pointRadius: 2.6, pointBorderWidth: 0, pointBackgroundColor: color };
}
function means(xs, ys, high, low, color) {
  return { data: toPoints(xs, ys), errHigh: high, errLow: low, pointRadius: 4, pointBorderWidth: 0, pointBackgroundColor: color };
}

makeChart('panelA', [dots(aBlue, BLUE), dots(aRed, RED)],
  { top: 48, right: 22, xSize: 118, ySize: 125, xTicks: xTicksTop, xMax: 0.22, yTicks: yTicksA, yMax: 40 });
makeChart('panelB', [dots(bBlue, BLUE), dots(bRed, RED)],
  { top: 48, right: 0, xSize: 118, ySize: 149, xTicks: xTicksTop, xMax: 0.22, yTicks: yTicksB, yMax: 1 });
makeChart('panelC', [means(binsBlue, cBlueMean, cBlueHigh, cBlueLow, BLUE), means(binsRed, cRedMean, cRedHigh, cRedLow, RED)],
  { top: 51, right: 22, xSize: 113, ySize: 125, xTicks: xTicksBottom, xMax: 0.065, yTicks: yTicksC, yMax: 25 });
makeChart('panelD', [means(binsBlue, dBlueMean, dBlueHigh, dBlueLow, BLUE), means(binsRed, dRedMean, dRedHigh, dRedLow, RED)],
  { top: 51, right: 0, xSize: 113, ySize: 149, xTicks: xTicksBottom, xMax: 0.065, yTicks: yTicksD, yMax: 1 });
</script>
</body>
</html>
